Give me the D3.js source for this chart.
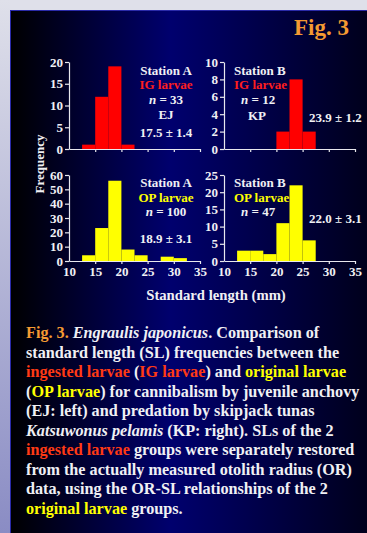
<!DOCTYPE html>
<html><head><meta charset="utf-8">
<script src="https://cdn.jsdelivr.net/npm/d3@7"></script>
<style>html,body{margin:0;padding:0;background:#dfe0ea;overflow:hidden}</style>
</head><body>
<svg id="c" width="367" height="533"></svg>
<script>
// ---- data ----
const binStarts = [12.5, 15, 17.5, 20, 22.5, 25, 27.5, 30];
const binWidth = 2.5;
const igA = [1, 12, 19, 1, 0, 0, 0, 0];
const igB = [0, 0, 0, 2, 8, 2, 0, 0];
const opA = [4, 23, 56, 8, 4, 0, 3, 2];
const opB = [3, 3, 2, 11, 22, 6, 0, 0];
const xTicks = [10, 15, 20, 25, 30, 35];
const yTicksIgA = [0, 5, 10, 15, 20];
const yTicksIgB = [0, 2, 4, 6, 8, 10];
const yTicksOpA = [0, 10, 20, 30, 40, 50, 60];
const yTicksOpB = [0, 5, 10, 15, 20, 25];

const svg = d3.select("#c");
const defs = svg.append("defs");
const bg = defs.append("linearGradient").attr("id","bg").attr("x1","0").attr("x2","1").attr("y1","0").attr("y2","0");
bg.append("stop").attr("offset","0%").attr("stop-color","#000000");
bg.append("stop").attr("offset","45%").attr("stop-color","#00006e");
bg.append("stop").attr("offset","100%").attr("stop-color","#00001c");
const ls = defs.append("linearGradient").attr("id","ls").attr("x1","0").attr("x2","0").attr("y1","0").attr("y2","1");
ls.append("stop").attr("offset","0%").attr("stop-color","#dfe0ea");
ls.append("stop").attr("offset","100%").attr("stop-color","#8a8cc4");

svg.append("rect").attr("x",0).attr("y",0).attr("width",367).attr("height",533).attr("fill","#dfe0ea");
svg.append("rect").attr("x",0).attr("y",0).attr("width",10).attr("height",533).attr("fill","url(#ls)");
svg.append("rect").attr("x",10).attr("y",10).attr("width",357).attr("height",523).attr("fill","url(#bg)");
svg.append("line").attr("x1",10.5).attr("x2",10.5).attr("y1",10).attr("y2",533).attr("stroke","#2a2aa8");
svg.append("line").attr("x1",10).attr("x2",367).attr("y1",10.5).attr("y2",10.5).attr("stroke","#2a2aa8");

const FONT = "'Liberation Serif','Times New Roman',serif";
svg.append("text").attr("x",349).attr("y",35).attr("text-anchor","end")
  .attr("font-family",FONT).attr("font-weight","bold").attr("font-size",23).attr("fill","#f49a32").text("Fig. 3");

function panel(vals, color, xr, yr, ymax, yTicks, showXLabels){
  const x = d3.scaleLinear().domain([10,35]).range(xr);
  const y = d3.scaleLinear().domain([0,ymax]).range(yr);
  const g = svg.append("g");
  g.selectAll("rect").data(binStarts.map((b,i)=>({b,v:vals[i]})).filter(d=>d.v>0))
    .enter().append("rect")
    .attr("x",d=>x(d.b)).attr("width",d=>x(d.b+binWidth)-x(d.b))
    .attr("y",d=>y(d.v)).attr("height",d=>y(0)-y(d.v)).attr("fill",color);
  const ya = g.append("g").attr("transform",`translate(${xr[0]},0)`)
    .call(d3.axisLeft(y).tickValues(yTicks).tickSize(4).tickSizeOuter(0).tickPadding(2));
  const xa = g.append("g").attr("transform",`translate(0,${yr[0]})`)
    .call(d3.axisBottom(x).tickValues(xTicks).tickSize(3).tickSizeOuter(0).tickPadding(3)
      .tickFormat(showXLabels ? d3.format("d") : ""));
  [ya, xa].forEach(a=>{
    a.selectAll("path,line").attr("stroke","#e8e8ee").attr("stroke-width",1.2);
    a.selectAll("text").attr("fill","#f0f0f4").attr("font-family",FONT).attr("font-weight","bold").attr("font-size",13);
  });
  xa.selectAll(".tick").filter(d=>d===10).select("line").remove();
  return {x,y};
}
panel(igA, "#ff0000", [69,200], [149,62], 20, yTicksIgA, false);
panel(igB, "#ff0000", [224,355], [149,62], 10, yTicksIgB, false);
panel(opA, "#ffff00", [69,200], [261,175], 60, yTicksOpA, true);
panel(opB, "#ffff00", [224,355], [261,175], 25, yTicksOpB, true);

function label(x, y, txt, color, anchor, italicN){
  const t = svg.append("text").attr("x",x).attr("y",y).attr("text-anchor",anchor||"start")
    .attr("font-family",FONT).attr("font-weight","bold").attr("font-size",13).attr("fill",color||"#f0f0f4");
  if(italicN){
    t.append("tspan").attr("font-style","italic").text("n");
    t.append("tspan").text(" = " + txt);
  } else t.text(txt);
}
const W = "#f0f0f4";
label(166, 75, "Station A", W, "middle");
label(166, 89, "IG larvae", "#ff1e1e", "middle");
label(166, 104, "33", W, "middle", true);
label(166, 119, "EJ", W, "middle");
label(166, 137, "17.5 \u00B1 1.4", W, "middle");

label(234, 75, "Station B", W);
label(234, 89, "IG larvae", "#ff1e1e");
label(241, 104, "12", W, "start", true);
label(257, 120, "KP", W, "middle");
label(309, 122, "23.9 \u00B1 1.2", W);

label(166, 187, "Station A", W, "middle");
label(166, 202, "OP larvae", "#ffff00", "middle");
label(166, 216, "100", W, "middle", true);
label(166, 243, "18.9 \u00B1 3.1", W, "middle");

label(234, 187, "Station B", W);
label(234, 202, "OP larvae", "#ffff00");
label(241, 216, "47", W, "start", true);
label(309, 223, "22.0 \u00B1 3.1", W);

svg.append("text").attr("transform","translate(44,164) rotate(-90)").attr("text-anchor","middle")
  .attr("font-family",FONT).attr("font-weight","bold").attr("font-size",13).attr("fill",W).text("Frequency");
svg.append("text").attr("x",216).attr("y",300).attr("text-anchor","middle")
  .attr("font-family",FONT).attr("font-weight","bold").attr("font-size",14.7).attr("fill",W).text("Standard length (mm)");

// caption
const O = "#f49a32", R = "#ff3a14", Y = "#ffff00";
const caption = [
  [["Fig. 3. ",O],["Engraulis japonicus",W,1],[". Comparison of",W]],
  [["standard length (SL) frequencies between the",W]],
  [["ingested larvae",R],[" (",W],["IG larvae",R],[") and ",W],["original larvae",Y]],
  [["(",W],["OP larvae",Y],[") for cannibalism by juvenile anchovy",W]],
  [["(EJ: left) and predation by skipjack tunas",W]],
  [["Katsuwonus pelamis",W,1],[" (KP: right). SLs of the 2",W]],
  [["ingested larvae",R],[" groups were separately restored",W]],
  [["from the actually measured otolith radius (OR)",W]],
  [["data, using the OR-SL relationships of the 2",W]],
  [["original larvae",Y],[" groups.",W]]
];
caption.forEach((line,i)=>{
  const t = svg.append("text").attr("x",26).attr("y",338 + i*19.5)
    .attr("font-family",FONT).attr("font-weight","bold").attr("font-size",16.2).attr("xml:space","preserve");
  line.forEach(s=>{
    const sp = t.append("tspan").attr("fill",s[1]).text(s[0]);
    if(s[2]) sp.attr("font-style","italic");
  });
});
</script>
</body></html>
